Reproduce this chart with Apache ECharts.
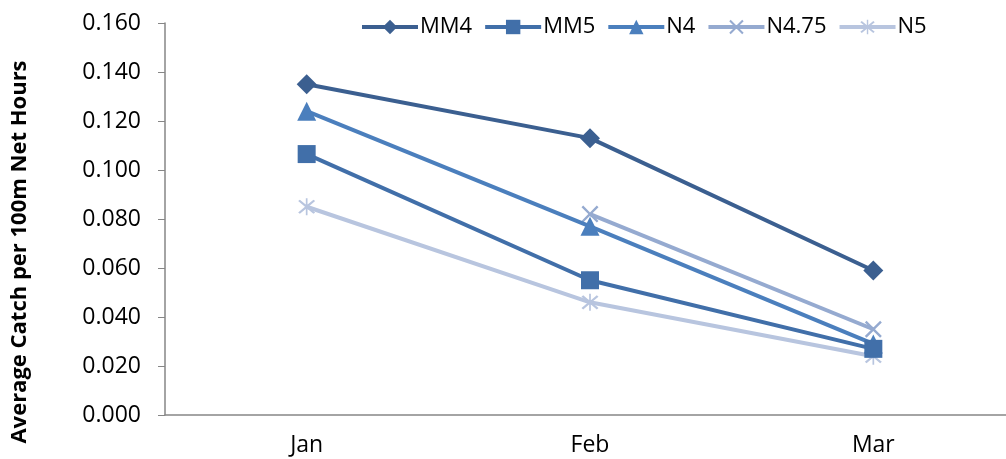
<!DOCTYPE html>
<html><head><meta charset="utf-8">
<script src="https://cdn.jsdelivr.net/npm/echarts@6/dist/echarts.min.js"></script>
<style>html,body{margin:0;padding:0;background:#fff}#c{width:1006px;height:459px}</style>
</head><body><div id="c"></div>
<script>
const categories = ['Jan', 'Feb', 'Mar'];
const seriesNames = ['MM4', 'MM5', 'N4', 'N4.75', 'N5'];
const mm4 = [0.135, 0.113, 0.059];
const mm5 = [0.1065, 0.055, 0.027];
const n4 = [0.124, 0.077, 0.029];
const n475 = [null, 0.082, 0.035];
const n5 = [0.085, 0.046, 0.024];
const yTicks = { min: 0, max: 0.16, interval: 0.02 };
const yTitle = 'Average Catch per 100m Net Hours';

const colors = ['#3b5f90', '#416fa9', '#4b7fbd', '#95aad0', '#b8c5df'];
const xPath = 'path://M1,0 L5,4 L9,0 L10,1 L6,5 L10,9 L9,10 L5,6 L1,10 L0,9 L4,5 L0,1 Z';
const starPath = 'path://M1,0 L5,4 L9,0 L10,1 L6,5 L10,9 L9,10 L5,6 L1,10 L0,9 L4,5 L0,1 Z M4.5,-1 L5.5,-1 L5.5,11 L4.5,11 Z';
const symbols = ['diamond', 'rect', 'triangle', xPath, starPath];
const sizes = [20, 18, 19, 17, 17];
const data = [mm4, mm5, n4, n475, n5];

const chart = echarts.init(document.getElementById('c'));
chart.setOption({
  animation: false,
  color: colors,
  legend: {
    top: 11, left: 355,
    itemWidth: 56, itemHeight: 18, itemGap: 11,
    lineStyle: { width: 4 },
    textStyle: { fontFamily: 'Open Sans', fontSize: 22, color: '#000', padding: [0, 0, 0, -3] },
    data: seriesNames
  },
  grid: { left: 165, width: 850, top: 23, bottom: 44, outerBoundsMode: 'none', containLabel: false },
  graphic: [{
    type: 'text', x: 20, y: 252, rotation: Math.PI / 2,
    style: { text: yTitle, font: 'bold 22px "Open Sans"', fill: '#000', align: 'center', verticalAlign: 'middle' }
  }],
  xAxis: {
    type: 'category', data: categories, boundaryGap: true,
    axisLine: { lineStyle: { color: '#868686', width: 1.5 } },
    axisTick: { show: false },
    axisLabel: { color: '#000', fontFamily: 'Open Sans', fontSize: 23, margin: 19 }
  },
  yAxis: {
    type: 'value', min: yTicks.min, max: yTicks.max, interval: yTicks.interval,
    axisLine: { show: true, lineStyle: { color: '#868686', width: 1.5 } },
    axisTick: { show: true, length: 7, lineStyle: { color: '#868686' } },
    splitLine: { show: false },
    axisLabel: { color: '#000', fontFamily: 'Open Sans', fontSize: 23, margin: 24,
      formatter: v => v.toFixed(3) }
  },
  series: seriesNames.map((n, i) => ({
    name: n, type: 'line', data: data[i],
    symbol: symbols[i], symbolSize: sizes[i], showAllSymbol: true,
    connectNulls: false,
    lineStyle: { width: 4, color: colors[i] },
    itemStyle: { color: colors[i] },
    z: 10 - i
  }))
});
</script></body></html>
